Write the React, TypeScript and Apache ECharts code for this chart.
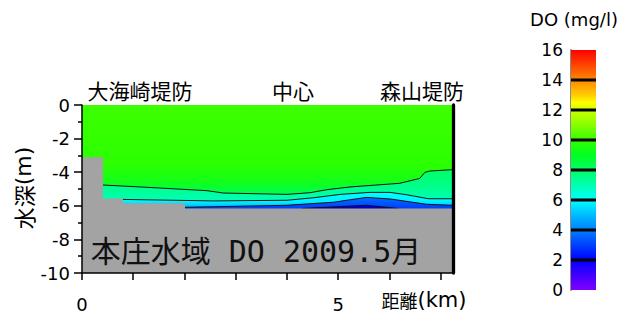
import React, { useEffect, useRef } from "react";
import * as echarts from "echarts";

// ---------- data ----------
const X_MAX = 7.245; // km, right border of the section
const FLOOR = -6.3; // lower closing depth for fill bands (hidden under the bed)
const xTickValues = [0, 1, 2, 3, 4, 5, 6, 7];
const xLabelValues = [0, 5];

// bed profile (gray)
const bedDist = [0, 0.41, 0.41, 0.8, 0.8, 2.01, 2.01, 7.245];
const bedDepth = [-3.11, -3.11, -5.56, -5.56, -5.85, -5.85, -6.16, -6.16];

// contour lines of DO (mg/l)
const do8Dist = [0.39, 1.27, 2.44, 2.76, 4.0, 4.45, 4.78, 5.23, 6.2, 6.59, 6.69, 6.79, 7.22];
const do8Depth = [-4.76, -4.9, -5.1, -5.24, -5.32, -5.22, -5.04, -4.88, -4.66, -4.37, -4.01, -3.93, -3.85];
const do6Dist = [0.8, 2.57, 4.0, 4.52, 5.04, 5.62, 6.01, 6.33, 6.76, 7.22];
const do6Depth = [-5.62, -5.71, -5.67, -5.52, -5.32, -5.2, -5.2, -5.34, -5.58, -5.58];
const do4Dist = [2.0, 4.0, 4.9, 5.55, 6.03, 6.72, 7.22];
const do4Depth = [-6.09, -5.97, -5.79, -5.5, -5.6, -5.91, -5.97];
const do2Dist = [4.29, 5.55, 6.17];
const do2Depth = [-6.16, -5.97, -6.16];

// colour scale
const scaleMin = 0;
const scaleMax = 16;
const scaleInterval = 2;
const scaleLines = [2, 4, 6, 8, 10, 12, 14];
const scaleValues = [16, 15, 14, 13, 12.5, 12, 11, 10, 9, 8, 7, 6, 5, 4, 3, 2, 1, 0];
const scaleColors = [
  "#ff0000", "#ff4400", "#ff8800", "#ffcc00", "#ffff00", "#ccff00", "#88ff00", "#33ff00",
  "#00ff20", "#00ff66", "#00ffb0", "#00ffff", "#00bbff", "#0080ff", "#0040ff", "#0000ff",
  "#4000ff", "#8000ff",
];

const zip = (a: number[], b: number[]) => a.map((v, i) => [v, b[i]]);

const LATIN = "DejaVu Sans";
const CJK = "Noto Sans CJK JP";

export default function App() {
  const ref = useRef<HTMLDivElement>(null);

  useEffect(() => {
    if (!ref.current) return;
    const chart = echarts.init(ref.current, undefined, { renderer: "svg" });

    const grad = (stops: [number, string][]) =>
      new echarts.graphic.LinearGradient(
        0, 0, 0, 1,
        stops.map(([offset, color]) => ({ offset, color }))
      );

    const polygonSeries = (pts: number[][], fill: any, z: number) => ({
      type: "custom",
      xAxisIndex: 0,
      yAxisIndex: 0,
      silent: true,
      clip: true,
      z,
      data: [[0, 0]],
      renderItem: (_p: any, api: any) => ({
        type: "polygon",
        shape: { points: pts.map((p) => api.coord(p)) },
        style: { fill },
      }),
    });

    const below = (d: number[], v: number[]) => {
      const pts = zip(d, v);
      return [...pts, [d[d.length - 1], FLOOR], [d[0], FLOOR]];
    };

    const contour = (d: number[], v: number[]) => ({
      type: "line",
      xAxisIndex: 0,
      yAxisIndex: 0,
      data: zip(d, v),
      symbol: "none",
      silent: true,
      z: 3,
      lineStyle: { color: "#111", width: 1 },
    });

    const bedPts = [...zip(bedDist, bedDepth), [X_MAX, -10], [0, -10]];
    const surfacePts = [[0, 0], [X_MAX, 0], [X_MAX, FLOOR], [0, FLOOR]];

    const scaleStops = scaleValues.map((v, i) => ({
      offset: (scaleMax - v) / (scaleMax - scaleMin),
      color: scaleColors[i],
    }));

    const option: any = {
      animation: false,
      backgroundColor: "#ffffff",
      grid: [
        { left: 82, top: 105, width: 371.3, height: 168 },
        { left: 571, top: 50, width: 25, height: 240 },
      ],
      xAxis: [
        {
          type: "value",
          gridIndex: 0,
          min: 0,
          max: X_MAX,
          interval: 1,
          z: 10,
          axisLine: { show: true, onZero: false, lineStyle: { color: "#000", width: 1.5 } },
          axisTick: {
            show: true,
            length: 7,
            customValues: xTickValues,
            lineStyle: { color: "#000", width: 1.5 },
          },
          axisLabel: {
            customValues: xLabelValues,
            margin: 22,
            fontSize: 18,
            fontFamily: LATIN,
            color: "#000",
          },
          splitLine: { show: false },
        },
        {
          type: "value",
          gridIndex: 1,
          min: 0,
          max: 1,
          show: false,
        },
      ],
      yAxis: [
        {
          type: "value",
          gridIndex: 0,
          min: -10,
          max: 0,
          interval: 2,
          z: 10,
          axisLine: { show: true, onZero: false, lineStyle: { color: "#000", width: 1.5 } },
          axisTick: { show: true, length: 8, lineStyle: { color: "#000", width: 1.5 } },
          minorTick: { show: true, splitNumber: 2, length: 4, lineStyle: { color: "#000", width: 1.5 } },
          axisLabel: { margin: 12, fontSize: 18, fontFamily: LATIN, color: "#000" },
          splitLine: { show: false },
        },
        {
          type: "value",
          gridIndex: 0,
          position: "right",
          min: -10,
          max: 0,
          z: 10,
          axisLine: { show: true, onZero: false, lineStyle: { color: "#000", width: 3.3 } },
          axisTick: { show: false },
          axisLabel: { show: false },
          splitLine: { show: false },
        },
        {
          type: "value",
          gridIndex: 1,
          min: scaleMin,
          max: scaleMax,
          interval: scaleInterval,
          axisLine: { show: true, onZero: false, lineStyle: { color: "rgba(0,0,0,0.45)", width: 2 } },
          axisTick: { show: false },
          axisLabel: { margin: 8, fontSize: 17, fontFamily: LATIN, color: "#000" },
          splitLine: { show: false },
        },
      ],
      series: [
        polygonSeries(
          surfacePts,
          grad([
            [0, "#3dff00"],
            [0.55, "#2cff00"],
            [0.72, "#14ff18"],
            [0.82, "#00ff48"],
            [1, "#00ff60"],
          ]),
          1
        ),
        polygonSeries(
          below(do8Dist, do8Depth),
          grad([
            [0, "#00ff66"],
            [0.4, "#00ff88"],
            [0.65, "#00ffaa"],
            [1, "#00ffd0"],
          ]),
          1
        ),
        polygonSeries(
          below(do6Dist, do6Depth),
          grad([
            [0, "#00ffff"],
            [0.5, "#00f2ff"],
            [0.75, "#00c0ff"],
            [1, "#0090ff"],
          ]),
          1
        ),
        polygonSeries(
          below(do4Dist, do4Depth),
          grad([
            [0, "#0070ff"],
            [0.5, "#0050ff"],
            [1, "#0030ff"],
          ]),
          1
        ),
        polygonSeries(
          below(do2Dist, do2Depth),
          grad([
            [0, "#0000dd"],
            [1, "#0000aa"],
          ]),
          1
        ),
        contour(do8Dist, do8Depth),
        contour(do6Dist, do6Depth),
        contour(do4Dist, do4Depth),
        contour(do2Dist, do2Depth),
        polygonSeries(bedPts, "#a3a3a3", 4),
        // colour scale bar
        {
          type: "custom",
          xAxisIndex: 1,
          yAxisIndex: 2,
          silent: true,
          z: 2,
          data: [[0, scaleMax]],
          renderItem: (_p: any, api: any) => {
            const tl = api.coord([0, scaleMax]);
            const br = api.coord([1, scaleMin]);
            return {
              type: "rect",
              shape: { x: tl[0], y: tl[1], width: br[0] - tl[0], height: br[1] - tl[1] },
              style: { fill: new echarts.graphic.LinearGradient(0, 0, 0, 1, scaleStops) },
            };
          },
        },
        // black separators every 2 mg/l
        {
          type: "custom",
          xAxisIndex: 1,
          yAxisIndex: 2,
          silent: true,
          z: 6,
          data: scaleLines.map((v) => [0, v]),
          renderItem: (_p: any, api: any) => {
            const a = api.coord([0, api.value(1)]);
            const b = api.coord([1, api.value(1)]);
            return {
              type: "rect",
              shape: { x: a[0], y: a[1] - 1.5, width: b[0] - a[0], height: 3 },
              style: { fill: "#000" },
            };
          },
        },
      ],
      graphic: [
        {
          type: "text",
          x: 140,
          y: 90,
          style: { text: "大海崎堤防", font: `21px "${CJK}"`, fill: "#000", align: "center", verticalAlign: "middle" },
        },
        {
          type: "text",
          x: 293,
          y: 90,
          style: { text: "中心", font: `21px "${CJK}"`, fill: "#000", align: "center", verticalAlign: "middle" },
        },
        {
          type: "text",
          x: 422,
          y: 90,
          style: { text: "森山堤防", font: `21px "${CJK}"`, fill: "#000", align: "center", verticalAlign: "middle" },
        },
        {
          type: "text",
          x: 256,
          y: 251,
          z: 20,
          style: {
            text: "本庄水域 DO 2009.5月",
            font: `30px "DejaVu Sans Mono", "${CJK}"`,
            fill: "#111",
            align: "center",
            verticalAlign: "middle",
          },
        },
        {
          type: "text",
          x: 23,
          y: 188,
          rotation: Math.PI / 2,
          style: {
            text: "{c|水深}{l|(m)}",
            align: "center",
            verticalAlign: "middle",
            rich: {
              c: { fontFamily: CJK, fontSize: 22, fill: "#000" },
              l: { fontFamily: LATIN, fontSize: 22, fill: "#000" },
            },
          },
        },
        {
          type: "text",
          x: 424,
          y: 300,
          style: {
            text: "{c|距離}{l|(km)}",
            align: "center",
            verticalAlign: "middle",
            rich: {
              c: { fontFamily: CJK, fontSize: 18, fill: "#000" },
              l: { fontFamily: LATIN, fontSize: 21, fill: "#000" },
            },
          },
        },
        {
          type: "text",
          x: 574,
          y: 19,
          style: {
            text: "DO (mg/l)",
            font: `18px "${LATIN}"`,
            fill: "#000",
            align: "center",
            verticalAlign: "middle",
          },
        },
      ],
    };

    chart.setOption(option);
    return () => chart.dispose();
  }, []);

  return (
    <div
      ref={ref}
      style={{ position: "fixed", left: 0, top: 0, width: 633, height: 318, background: "#fff" }}
    />
  );
}
